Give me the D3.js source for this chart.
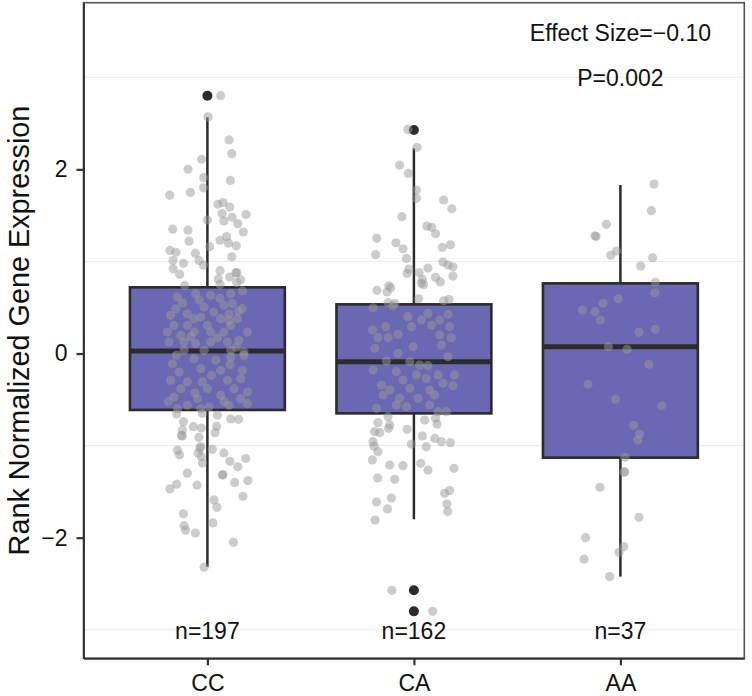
<!DOCTYPE html>
<html>
<head>
<meta charset="utf-8">
<script src="https://cdn.jsdelivr.net/npm/d3@7"></script>
<style>
  html, body { margin: 0; padding: 0; background: #fff; }
  svg { display: block; font-family: "Liberation Sans", Arial, Helvetica, sans-serif; }
</style>
</head>
<body>
<svg id="chart" width="752" height="696"></svg>
<script>
// ---- data ----
const categories = ["CC", "CA", "AA"];
const counts = [197, 162, 37];
const q1 = [-0.613, -0.650, -1.131];
const medians = [0.027, -0.089, 0.074];
const q3 = [0.719, 0.534, 0.762];
const whiskerLow = [-2.315, -1.800, -2.423];
const whiskerHigh = [2.565, 2.228, 1.830];
const outliers = [[2.80], [2.427, -2.571, -2.80], []];
const yTicks = [-2, 0, 2];
const yGrid = [-3, -1, 1, 3];
const effectSizeLabel = "Effect Size=\u22120.10";
const pValueLabel = "P=0.002";
const yTitle = "Rank Normalized Gene Expression";

// jittered points: [jitter offset (category units), value]
const ccPoints = [
  [0.064,2.80],[0.003,2.57],[0.105,2.32],[0.118,2.17],[-0.028,2.11],[-0.094,2.00],[-0.018,1.91],[0.111,1.88],
  [-0.019,1.80],[-0.082,1.75],[-0.182,1.72],[0.051,1.62],[0.076,1.64],[0.108,1.59],[0.071,1.52],[0.187,1.51],
  [0.119,1.48],[0,1.45],[0.08,1.44],[0.147,1.41],[-0.168,1.35],[-0.094,1.34],[0.174,1.32],[0.093,1.27],
  [0.061,1.23],[-0.089,1.22],[0.102,1.20],[0.14,1.17],[0.011,1.16],[-0.181,1.12],[-0.152,1.10],[-0.058,1.09],
  [0.118,1.05],[-0.166,1.01],[-0.04,1.01],[-0.116,0.98],[-0.019,0.96],[-0.166,0.92],[0.061,0.90],[0.143,0.88],
  [0.138,0.875],[-0.134,0.86],[0.108,0.83],[0.053,0.81],[0.161,0.80],[0.142,0.77],[-0.11,0.74],[0.061,0.75],
  [-0.145,0.613],[-0.057,0.65],[0.016,0.632],[0.113,0.65],[-0.153,0.487],[-0.097,0.432],[-0.016,0.505],[0.080,0.523],
  [0.121,0.541],[0.169,0.487],[0.105,0.432],[-0.178,0.415],[-0.065,0.378],[-0.032,0.396],[0.064,0.378],[0.105,0.36],
  [0.145,0.378],[-0.162,0.306],[-0.097,0.306],[0.0,0.306],[0.113,0.306],[-0.194,0.233],[-0.129,0.197],[-0.065,0.233],
  [0.016,0.233],[0.080,0.233],[0.194,0.233],[-0.186,0.125],[-0.113,0.125],[-0.057,0.107],[0.016,0.125],[0.097,0.125],
  [0.153,0.143],[-0.113,0.035],[-0.016,0.035],[0.113,0.035],[0.177,0.016],
  [-0.04,0.58],[0.06,0.60],[0.17,0.68],[-0.12,0.55],[0.03,0.45],[-0.08,0.18],[0.05,0.17],[0.14,0.07],
  [-0.15,-0.02],[0.02,-0.24],[-0.06,-0.43],[0.11,-0.12],[-0.19,-0.52],[0.08,-0.52],[0.15,0.46],
  [-0.169,-0.111],[-0.065,-0.056],[0.040,-0.074],[0.113,-0.038],[0.177,-0.020],[-0.137,-0.201],[-0.032,-0.165],[0.064,-0.183],
  [0.169,-0.183],[-0.178,-0.291],[-0.097,-0.309],[-0.024,-0.309],[0.097,-0.291],[0.161,-0.273],[-0.129,-0.382],[0.0,-0.382],
  [0.129,-0.382],[0.194,-0.418],[-0.162,-0.472],[-0.048,-0.49],[0.064,-0.454],[0.161,-0.49],[-0.097,-0.562],[0.008,-0.581],
  [0.105,-0.562],[0.194,-0.545],[-0.145,-0.60],[-0.032,-0.60],
  [-0.149,-0.657],[-0.024,-0.65],[0.048,-0.668],[0.113,-0.71],[0.151,-0.715],[-0.116,-0.74],[-0.068,-0.795],[-0.029,-0.81],
  [0.045,-0.79],[-0.121,-0.83],[0.037,-0.86],[-0.126,-0.89],[-0.122,-0.895],[-0.041,-0.91],[-0.032,-1.01],[-0.036,-1.03],
  [0.024,-1.04],[-0.145,-1.05],[-0.045,-1.08],[-0.135,-1.10],[0.08,-1.08],[-0.029,-1.12],[0.185,-1.14],[0.109,-1.17],
  [-0.024,-1.19],[0.147,-1.23],[-0.097,-1.30],[0.073,-1.32],[0.075,-1.315],[0.196,-1.38],[0.132,-1.40],[-0.149,-1.42],
  [-0.05,-1.43],[-0.181,-1.47],[0.172,-1.55],[0.032,-1.59],[0.046,-1.67],[-0.116,-1.74],[0.027,-1.84],[-0.113,-1.87],
  [-0.106,-1.92],[-0.058,-1.95],[0.126,-2.05],[-0.016,-2.32]
];
const caPoints = [
  [-0.029,2.434],[0.015,2.239],[-0.069,2.047],[-0.027,1.956],[0.012,1.775],[0.012,1.685],[0.144,1.667],[0.184,1.572],
  [-0.058,1.486],[0.063,1.384],[0.086,1.370],[0.105,1.301],[-0.180,1.251],[-0.087,1.203],[-0.053,1.138],[0.138,1.153],
  [0.177,1.181],[-0.185,1.073],[-0.036,1.033],[0.141,0.993],[0.165,0.961],[0.189,0.942],[-0.024,0.917],[0.068,0.928],
  [0.025,0.880],[-0.033,0.869],[0.189,0.841],[0.105,0.827],[0.128,0.778],[0.041,0.806],[0.036,0.764],[0.047,0.747],
  [-0.122,0.736],[-0.112,0.714],[-0.179,0.686],[-0.130,0.668],[0.023,0.595],[0.144,0.573],[0.170,0.588],[-0.125,0.552],
  [-0.093,0.545],
  [-0.198,0.497],[-0.101,0.52],[-0.029,0.40],[0.036,0.364],[0.068,0.436],[0.125,0.364],[0.165,0.425],[-0.012,0.291],
  [0.085,0.309],[0.173,0.291],[-0.201,0.255],[-0.136,0.291],[-0.077,0.208],[-0.174,0.172],[-0.125,0.172],[0.125,0.201],
  [0.181,0.172],[-0.004,0.074],[0.133,0.092],[-0.190,0.056],[-0.077,0.002],[0.165,-0.035],[-0.133,-0.081],[-0.020,-0.089],
  [0.028,-0.125],[0.068,-0.132],[-0.198,-0.179],[-0.085,-0.197],[0.012,-0.233],[0.117,-0.233],[0.197,-0.233],[-0.053,-0.288],
  [0.060,-0.270],[0.141,-0.324],[-0.157,-0.342],[0.189,-0.35],[-0.117,-0.396],[-0.020,-0.378],[0.076,-0.396],[-0.149,-0.451],
  [-0.069,-0.487],[0.020,-0.487],[0.101,-0.451],[-0.085,-0.559],[-0.181,-0.595],[-0.036,-0.577],[0.076,-0.559],[0.117,-0.632],
  [0.157,-0.632],
  [-0.174,-0.751],[-0.125,-0.686],[-0.117,-0.776],[-0.190,-0.849],[-0.165,-0.86],[-0.123,-0.812],[-0.033,-0.823],[0.052,-0.722],
  [0.105,-0.704],[0.112,-0.766],[0.041,-0.896],[0.101,-0.921],[0.133,-0.957],[0.177,-0.968],[-0.198,-0.957],[-0.193,-1.005],
  [-0.012,-0.983],[0.060,-1.012],[-0.174,-1.066],[-0.201,-1.156],[-0.117,-1.211],[-0.053,-1.218],[0.033,-1.192],[0.068,-1.265],
  [0.194,-1.247],[-0.175,-1.352],[-0.093,-1.366],[0.149,-1.518],[0.173,-1.489],[0.160,-1.634],[0.164,-1.717],[-0.181,-1.612],
  [-0.109,-1.569],[-0.128,-1.688],[-0.188,-1.808],[-0.107,-2.571],[0.091,-2.80]
];
const aaPoints = [
  [0.163,1.840],[0.150,1.551],[-0.068,1.403],[-0.123,1.279],[-0.118,1.27],[-0.019,1.113],[-0.047,1.066],[0.156,1.040],
  [0.098,0.950],[0.169,0.773],[0.167,0.660],[-0.010,0.595],[-0.084,0.545],[-0.184,0.472],[-0.123,0.454],[-0.097,0.364],
  [0.090,0.230],[0.169,0.263],[-0.058,0.074],[0.032,0.045],[0.138,-0.117],[-0.157,-0.334],[-0.023,-0.497],[0.200,-0.567],
  [0.064,-0.780],[0.093,-0.874],[0.084,-0.94],[0.022,-1.127],[0.020,-1.283],[0.018,-1.29],[-0.099,-1.453],[0.090,-1.779],
  [-0.169,-2.0],[0.016,-2.098],[-0.007,-2.159],[-0.176,-2.234],[-0.052,-2.423]
];
const pointsByGroup = [ccPoints, caPoints, aaPoints];

(function draw() {
  const svg = d3.select("#chart");
  const pL = 83.5, pR = 744.3, pT = 2.7, pB = 658.3;
  const x = d3.scalePoint().domain(categories).range([pL, pR]).padding(0.6);
  const step = x.step();
  const y = d3.scaleLinear().domain([-3.31, 3.81]).range([pB, pT]);
  const boxWidth = 0.75 * step;

  const boxFill = "#6a67b3";
  const darkLine = "#2b2b2b";

  svg.append("rect").attr("x", pL).attr("y", pT).attr("width", pR - pL).attr("height", pB - pT)
    .attr("fill", "#fff");
  svg.append("g").selectAll("line").data(yGrid).join("line")
    .attr("x1", pL).attr("x2", pR)
    .attr("y1", d => y(d)).attr("y2", d => y(d))
    .attr("stroke", "#ebebeb").attr("stroke-width", 1.1);

  const groups = categories.map((c, i) => ({
    cat: c, q1: q1[i], med: medians[i], q3: q3[i], lo: whiskerLow[i], hi: whiskerHigh[i],
    out: outliers[i], n: counts[i], pts: pointsByGroup[i]
  }));

  const bg = svg.append("g");
  groups.forEach(g => {
    const cx = x(g.cat);
    bg.append("line").attr("x1", cx).attr("x2", cx).attr("y1", y(g.q3)).attr("y2", y(g.hi))
      .attr("stroke", darkLine).attr("stroke-width", 2.5);
    bg.append("line").attr("x1", cx).attr("x2", cx).attr("y1", y(g.q1)).attr("y2", y(g.lo))
      .attr("stroke", darkLine).attr("stroke-width", 2.5);
    bg.append("rect").attr("x", cx - boxWidth / 2).attr("width", boxWidth)
      .attr("y", y(g.q3)).attr("height", y(g.q1) - y(g.q3))
      .attr("fill", boxFill).attr("stroke", darkLine).attr("stroke-width", 2.6);
    bg.append("line").attr("x1", cx - boxWidth / 2).attr("x2", cx + boxWidth / 2)
      .attr("y1", y(g.med)).attr("y2", y(g.med))
      .attr("stroke", darkLine).attr("stroke-width", 5);
    bg.selectAll(null).data(g.out).join("circle")
      .attr("cx", cx).attr("cy", d => y(d)).attr("r", 5)
      .attr("fill", darkLine);
  });

  const pg = svg.append("g");
  groups.forEach(g => {
    const cx = x(g.cat);
    pg.selectAll(null).data(g.pts).join("circle")
      .attr("cx", d => cx + d[0] * step)
      .attr("cy", d => y(d[1]))
      .attr("r", 4.6)
      .attr("fill", "#9a9a9a")
      .attr("fill-opacity", 0.5);
  });

  svg.append("g").selectAll("text").data(groups).join("text")
    .attr("x", d => x(d.cat)).attr("y", 638.5)
    .attr("text-anchor", "middle").attr("font-size", 23).attr("fill", "#111")
    .text(d => "n=" + d.n);

  svg.append("text").attr("x", x("AA")).attr("y", 41).attr("text-anchor", "middle")
    .attr("font-size", 23).attr("fill", "#111").text(effectSizeLabel);
  svg.append("text").attr("x", x("AA")).attr("y", 86).attr("text-anchor", "middle")
    .attr("font-size", 23).attr("fill", "#111").text(pValueLabel);

  svg.append("rect").attr("x", pL).attr("y", pT).attr("width", pR - pL).attr("height", pB - pT)
    .attr("fill", "none").attr("stroke", "#555").attr("stroke-width", 1.6);

  const yAxis = d3.axisLeft(y).tickValues(yTicks).tickSize(7).tickSizeOuter(0).tickPadding(9)
    .tickFormat(d => d < 0 ? "\u2212" + Math.abs(d) : String(d));
  const ya = svg.append("g").attr("transform", `translate(${pL},0)`).call(yAxis);
  ya.select(".domain").attr("stroke", "#333").attr("stroke-width", 2);
  ya.selectAll(".tick line").attr("stroke", "#333").attr("stroke-width", 2.2);
  ya.selectAll(".tick text").attr("font-size", 23).attr("fill", "#111")
    .attr("font-family", "\"Liberation Sans\", Arial, sans-serif");

  const xAxis = d3.axisBottom(x).tickSize(7).tickSizeOuter(0).tickPadding(9);
  const xa = svg.append("g").attr("transform", `translate(0,${pB})`).call(xAxis);
  xa.select(".domain").attr("stroke", "#333").attr("stroke-width", 2);
  xa.selectAll(".tick line").attr("stroke", "#333").attr("stroke-width", 2.2);
  xa.selectAll(".tick text").attr("font-size", 23).attr("fill", "#111")
    .attr("font-family", "\"Liberation Sans\", Arial, sans-serif");

  svg.append("text")
    .attr("transform", `translate(28.5,${(pT + pB) / 2}) rotate(-90)`)
    .attr("text-anchor", "middle").attr("font-size", 28.8).attr("fill", "#111")
    .text(yTitle);
})();
</script>
</body>
</html>
